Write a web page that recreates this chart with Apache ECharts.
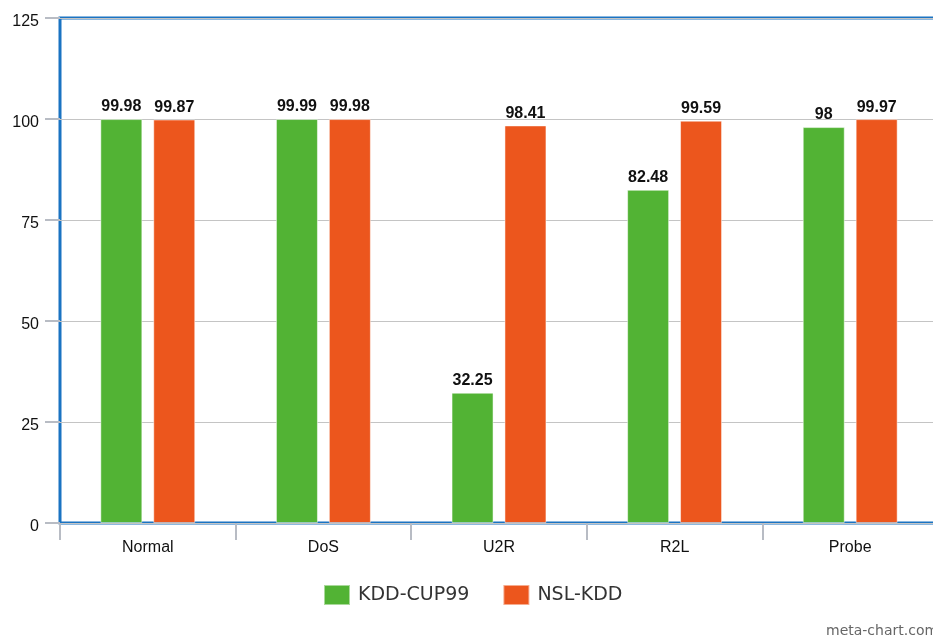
<!DOCTYPE html>
<html>
<head>
<meta charset="utf-8">
<script src="https://cdn.jsdelivr.net/npm/echarts@6/dist/echarts.min.js"></script>
<style>
  html, body { margin: 0; padding: 0; background: #fff; }
  #chart { width: 933px; height: 637px; }
</style>
</head>
<body>
<div id="chart"></div>
<script>
// Detection accuracy per attack class for the two datasets
const categories = ['Normal', 'DoS', 'U2R', 'R2L', 'Probe'];
const kddCup99 = [99.98, 99.99, 32.25, 82.48, 98];
const nslKdd = [99.87, 99.98, 98.41, 99.59, 99.97];
const seriesNames = ['KDD-CUP99', 'NSL-KDD'];

const GREEN = '#52b334';
const ORANGE = '#ec561d';

const chart = echarts.init(document.getElementById('chart'), null, { renderer: 'canvas' });

const labelStyle = {
  show: true,
  position: 'top',
  distance: 4,
  color: '#111',
  fontFamily: 'Liberation Sans, Arial, sans-serif',
  fontWeight: 'bold',
  fontSize: 16,
  formatter: p => String(p.value)
};

chart.setOption({
  animation: false,
  backgroundColor: '#fff',
  grid: {
    left: 60,
    top: 18,
    width: 878,
    height: 505,
    outerBoundsMode: 'none',
    containLabel: false,
    show: true,
    borderColor: '#1a73c2',
    borderWidth: 3,
    backgroundColor: 'transparent'
  },
  legend: {
    bottom: 26,
    left: 318,
    itemWidth: 26,
    itemHeight: 20,
    itemGap: 33,
    icon: 'rect',
    textStyle: {
      fontFamily: 'DejaVu Sans, sans-serif',
      fontSize: 19,
      color: '#333',
      padding: [0, 0, 0, 3]
    },
    data: seriesNames
  },
  xAxis: {
    type: 'category',
    data: categories,
    axisLine: { show: false },
    axisTick: { show: true, length: 17, lineStyle: { color: '#b8bcc4', width: 2 } },
    axisLabel: {
      margin: 17,
      color: '#111',
      fontFamily: 'Liberation Sans, Arial, sans-serif',
      fontSize: 16
    },
    splitLine: { show: false }
  },
  yAxis: {
    type: 'value',
    min: 0,
    max: 125,
    interval: 25,
    axisLine: { show: false },
    axisTick: { show: true, length: 15, lineStyle: { color: '#b8bcc4', width: 2 } },
    axisLabel: {
      margin: 21,
      formatter: v => '{t|' + v + '}',
      rich: {
        t: {
          color: '#111',
          fontFamily: 'Liberation Sans, Arial, sans-serif',
          fontSize: 16,
          padding: [7, 0, 0, 0]
        }
      }
    },
    splitLine: { show: true, lineStyle: { color: '#c4c4c4', width: 1 } }
  },
  series: [
    {
      name: seriesNames[0],
      type: 'bar',
      data: kddCup99,
      barWidth: 42,
      barGap: '26%',
      itemStyle: { color: GREEN, borderColor: 'rgba(255,255,255,0.5)', borderWidth: 1 },
      label: labelStyle
    },
    {
      name: seriesNames[1],
      type: 'bar',
      data: nslKdd,
      barWidth: 42,
      itemStyle: { color: ORANGE, borderColor: 'rgba(255,255,255,0.5)', borderWidth: 1 },
      label: labelStyle
    }
  ],
  graphic: [
    {
      type: 'text',
      left: 826,
      top: 624,
      style: {
        text: 'meta-chart.com',
        fill: '#666',
        fontFamily: 'DejaVu Sans, sans-serif',
        fontSize: 14
      }
    }
  ]
});
</script>
</body>
</html>
